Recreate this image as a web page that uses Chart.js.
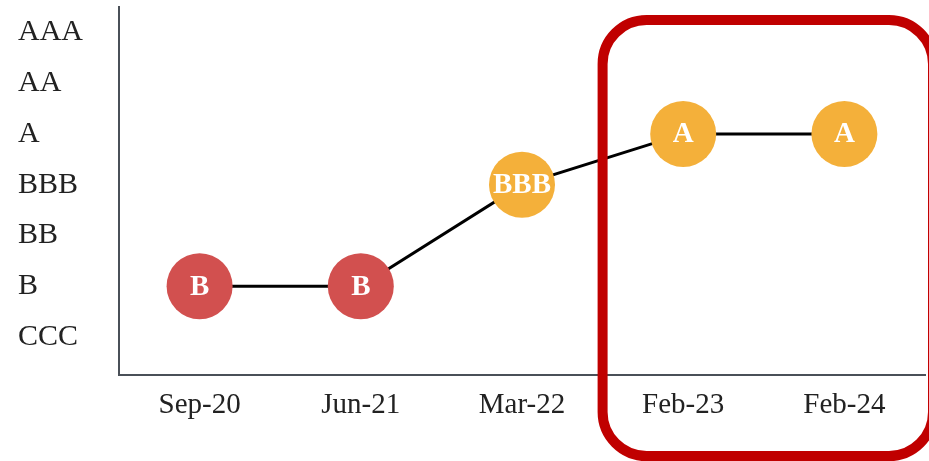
<!DOCTYPE html>
<html>
<head>
<meta charset="utf-8">
<script src="https://cdn.jsdelivr.net/npm/chart.js@4.4.1/dist/chart.umd.min.js"></script>
<style>
  html, body { margin: 0; padding: 0; background: #fff; }
  #wrap { width: 929px; height: 461px; }
</style>
</head>
<body>
<div id="wrap"><canvas id="chart"></canvas></div>
<script>
const dates = ['Sep-20', 'Jun-21', 'Mar-22', 'Feb-23', 'Feb-24'];
const ratingScale = ['CCC', 'B', 'BB', 'BBB', 'A', 'AA', 'AAA'];
const ratings = ['B', 'B', 'BBB', 'A', 'A'];
const pointColors = ['#d2504f', '#d2504f', '#f4b03a', '#f4b03a', '#f4b03a'];

const FONT = '"Liberation Serif", "Times New Roman", serif';

// write the rating inside each bubble
const bubbleLabels = {
  id: 'bubbleLabels',
  afterDatasetsDraw(chart) {
    const ctx = chart.ctx;
    const meta = chart.getDatasetMeta(0);
    ctx.save();
    ctx.fillStyle = '#ffffff';
    ctx.font = 'bold 29px ' + FONT;
    ctx.textAlign = 'center';
    ctx.textBaseline = 'middle';
    meta.data.forEach((pt, i) => {
      ctx.fillText(ratings[i], pt.x, pt.y + 1);
    });
    ctx.restore();
  }
};

// red rounded box around the last two periods
const highlightBox = {
  id: 'highlightBox',
  afterDraw(chart) {
    const ctx = chart.ctx;
    const x = chart.scales.x;
    const left = (x.getPixelForValue(2) + x.getPixelForValue(3)) / 2;
    ctx.save();
    ctx.strokeStyle = '#c00000';
    ctx.lineWidth = 10;
    ctx.beginPath();
    ctx.roundRect(left, 20, chart.width - left + 4, 436, 44);
    ctx.stroke();
    ctx.restore();
  }
};

new Chart(document.getElementById('chart'), {
  type: 'line',
  data: {
    labels: dates,
    datasets: [{
      data: ratings.map(r => ratingScale.indexOf(r)),
      borderColor: '#000000',
      borderWidth: 3,
      pointRadius: 33,
      pointHoverRadius: 33,
      pointBackgroundColor: pointColors,
      pointBorderColor: pointColors,
      pointBorderWidth: 0,
      tension: 0
    }]
  },
  options: {
    responsive: true,
    maintainAspectRatio: false,
    animation: false,
    layout: { autoPadding: false, padding: { left: 18, top: 7, right: 4, bottom: 0 } },
    plugins: {
      legend: { display: false },
      tooltip: { enabled: false }
    },
    scales: {
      x: {
        offset: true,
        grid: { display: false },
        border: { display: true, color: '#4a5058', width: 2 },
        ticks: { color: '#222', font: { family: FONT, size: 29 }, padding: 5 },
        afterFit: s => { s.height = 86; }
      },
      y: {
        min: -0.75,
        max: 6.5,
        grid: { display: false },
        border: { display: true, color: '#4a5058', width: 2 },
        afterBuildTicks: s => { s.ticks = ratingScale.map((_, i) => ({ value: i })); },
        ticks: {
          color: '#222',
          crossAlign: 'far',
          font: { family: FONT, size: 30 },
          callback: v => ratingScale[v]
        },
        afterFit: s => { s.width = 101; s.paddingTop = 0; s.paddingBottom = 0; }
      }
    }
  },
  plugins: [bubbleLabels, highlightBox]
});
</script>
</body>
</html>
